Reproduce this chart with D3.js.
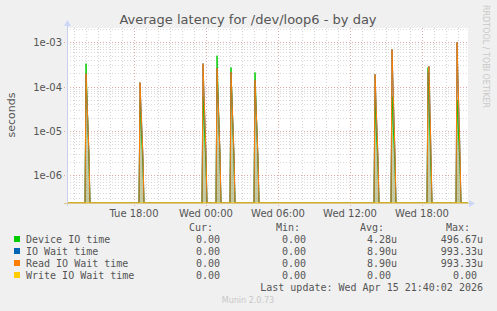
<!DOCTYPE html>
<html><head><meta charset="utf-8">
<script src="https://cdn.jsdelivr.net/npm/d3@7"></script>
<style>
html,body{margin:0;padding:0;background:#f0f0f0;}
svg{display:block;}
</style></head>
<body>
<svg id="c" width="497" height="311"></svg>
<script>
// ---- data ----
const title = "Average latency for /dev/loop6 - by day";
const yLabel = "seconds";
const yTickValues = [1e-6, 1e-5, 1e-4, 1e-3];
const yTickLabels = ["1e-06", "1e-05", "1e-04", "1e-03"];
const xTickTimes = ["2026-04-14T18:00", "2026-04-15T00:00", "2026-04-15T06:00", "2026-04-15T12:00", "2026-04-15T18:00"];
const xTickLabels = ["Tue 18:00", "Wed 00:00", "Wed 06:00", "Wed 12:00", "Wed 18:00"];
const timeStart = "2026-04-14T12:25";
const timeEnd = "2026-04-15T21:50";
const yMin = 2.35e-7, yMax = 2.1e-3;

// spikes: time of peak (5-minute samples)
const spikeTimes = ["2026-04-14T14:00","2026-04-14T18:30","2026-04-14T23:45","2026-04-15T00:55","2026-04-15T02:05",
                    "2026-04-15T04:05","2026-04-15T14:05","2026-04-15T15:30","2026-04-15T18:30","2026-04-15T20:55"];
// value at the peak sample and value at the sample 15 min later (seconds)
const deviceIOPeak  = [3.3e-4, 5e-5,   6e-5,   4.97e-4, 2.7e-4, 2.08e-4, 5e-5,    6e-5,    2.7e-4, 5e-5];
const deviceIOTail  = [2e-6,   1.5e-6, 1.5e-6, 2.5e-6,  2e-6,   2e-6,    1.5e-6,  1.5e-6,  1.2e-6, 1.5e-6];
const ioWaitPeak    = [1.95e-4,1.23e-4,3.3e-4, 2.6e-4,  2.1e-4, 1.4e-4,  1.88e-4, 6.86e-4, 1.95e-4,9.93e-4];
const ioWaitTail    = [3e-6,   2.5e-6, 3e-6,   3e-6,    3e-6,   2.5e-6,  2.5e-6,  3e-6,    3e-6,   3e-6];
const readWaitPeak  = [1.95e-4,1.23e-4,3.3e-4, 2.6e-4,  2.1e-4, 1.4e-4,  1.88e-4, 6.86e-4, 1.95e-4,9.93e-4];
const readWaitTail  = [3e-6,   2.5e-6, 3e-6,   3e-6,    3e-6,   2.5e-6,  2.5e-6,  3e-6,    3e-6,   3e-6];
const writeWaitPeak = [0,0,0,0,0,0,0,0,0,0];
// second peak at 18:35 in the spike near Wed 18:30
const extraTime = "2026-04-15T18:35";
const extraRead = 2.84e-4;

const legendNames = ["Device IO time", "IO Wait time", "Read IO Wait time", "Write IO Wait time"];
const legendColors = ["#00cc00", "#0066b3", "#ff8000", "#ffcc00"];
const legendCur = ["0.00", "0.00", "0.00", "0.00"];
const legendMin = ["0.00", "0.00", "0.00", "0.00"];
const legendAvg = ["4.28u", "8.90u", "8.90u", "0.00"];
const legendMax = ["496.67u", "993.33u", "993.33u", "0.00"];
const lastUpdate = "Last update: Wed Apr 15 21:40:02 2026";
const version = "Munin 2.0.73";

// ---- drawing ----
const svg = d3.select("#c");
const L = 67, R = 468, T = 28, B = 203;
const parse = d3.timeParse("%Y-%m-%dT%H:%M");
const x = d3.scaleTime().domain([parse(timeStart), parse(timeEnd)]).range([L, R]);
const y = d3.scaleLog().domain([yMin, yMax]).range([B, T]);

svg.append("rect").attr("x", L).attr("y", T).attr("width", R - L).attr("height", B - T).attr("fill", "#fff");

const g = svg.append("g");
const hours = d3.timeHour.every(1).range(x.domain()[0], x.domain()[1]);
g.selectAll(".vmin").data(hours).enter().append("line")
  .attr("x1", d => Math.round(x(d)) + 0.5).attr("x2", d => Math.round(x(d)) + 0.5)
  .attr("y1", T).attr("y2", B)
  .attr("stroke", "#d4d4d4").attr("stroke-width", 1).attr("stroke-dasharray", "1,2");
const minorY = [];
for (let e = -7; e <= -3; e++) for (let m = 2; m <= 9; m++) { const v = m * Math.pow(10, e); if (v > yMin && v < yMax) minorY.push(v); }
g.selectAll(".hmin").data(minorY).enter().append("line")
  .attr("x1", L).attr("x2", R)
  .attr("y1", d => Math.round(y(d)) + 0.5).attr("y2", d => Math.round(y(d)) + 0.5)
  .attr("stroke", "#dadada").attr("stroke-width", 1).attr("stroke-dasharray", "1,2");
const xt = xTickTimes.map(parse);
g.selectAll(".vmaj").data(xt).enter().append("line")
  .attr("x1", d => Math.round(x(d)) + 0.5).attr("x2", d => Math.round(x(d)) + 0.5)
  .attr("y1", T).attr("y2", B + 3)
  .attr("stroke", "#e4a8a8").attr("stroke-width", 1).attr("stroke-dasharray", "1,2");
g.selectAll(".hmaj").data(yTickValues).enter().append("line")
  .attr("x1", L - 3).attr("x2", R)
  .attr("y1", d => Math.round(y(d)) + 0.5).attr("y2", d => Math.round(y(d)) + 0.5)
  .attr("stroke", "#e4a8a8").attr("stroke-width", 1).attr("stroke-dasharray", "1,2");

function series(peaks, tails, extra) {
  const pts = [{t: x.domain()[0], v: 0}];
  spikeTimes.forEach((s, i) => {
    const t0 = parse(s);
    pts.push({t: d3.timeMinute.offset(t0, -5), v: 0});
    pts.push({t: t0, v: peaks[i]});
    if (extra && s === "2026-04-15T18:30") pts.push({t: parse(extraTime), v: extra});
    pts.push({t: d3.timeMinute.offset(t0, 15), v: tails ? tails[i] : 0});
    pts.push({t: d3.timeMinute.offset(t0, 20), v: 0});
  });
  pts.push({t: x.domain()[1], v: 0});
  return pts;
}
const yv = d => d.v > yMin ? y(d.v) : B;
const line = d3.line().x(d => x(d.t)).y(yv);
const allSeries = [
  series(deviceIOPeak, deviceIOTail, null),
  series(ioWaitPeak, ioWaitTail, extraRead),
  series(readWaitPeak, readWaitTail, extraRead),
  series(writeWaitPeak, null, null)
];
const area = d3.area().x(d => x(d.t)).y0(B).y1(yv);
svg.append("path").datum(allSeries[2]).attr("d", area).attr("fill", "#9a7a40").attr("opacity", 0.35);
svg.append("path").datum(allSeries[0]).attr("d", area).attr("fill", "#80c060").attr("opacity", 0.25);
allSeries.forEach((s, i) => {
  svg.append("path").datum(s).attr("d", line).attr("fill", "none")
    .attr("stroke", legendColors[i]).attr("stroke-width", 1);
});

// axes
svg.append("line").attr("x1", L + 0.5).attr("x2", L + 0.5).attr("y1", B + 3).attr("y2", T - 4).attr("stroke", "#c8d0f0");
svg.append("line").attr("x1", L - 3).attr("x2", R + 2).attr("y1", B + 0.5).attr("y2", B + 0.5).attr("stroke", "#d8c890");
svg.append("path").attr("d", `M${L - 3},${T - 2} L${L + 4},${T - 2} L${L + 0.5},${T - 8} Z`).attr("fill", "#ccd6f8");
svg.append("path").attr("d", `M${R + 1},${B - 3} L${R + 1},${B + 4} L${R + 7},${B + 0.5} Z`).attr("fill", "#ccd6f8");

const tf = "DejaVu Sans, sans-serif";
svg.selectAll(".yl").data(yTickValues).enter().append("text")
  .attr("x", 62).attr("y", d => y(d) + 4).attr("text-anchor", "end")
  .attr("font-family", tf).attr("font-size", 10).attr("fill", "#555")
  .text((d, i) => yTickLabels[i]);
svg.selectAll(".xl").data(xt).enter().append("text")
  .attr("x", d => x(d)).attr("y", 217).attr("text-anchor", "middle")
  .attr("font-family", tf).attr("font-size", 10).attr("fill", "#555")
  .text((d, i) => xTickLabels[i]);

svg.append("text").attr("x", 248).attr("y", 24).attr("text-anchor", "middle")
  .attr("font-family", tf).attr("font-size", 13).attr("fill", "#555").text(title);
svg.append("text").attr("transform", "translate(15,115) rotate(-90)").attr("text-anchor", "middle")
  .attr("font-family", tf).attr("font-size", 11).attr("fill", "#555").text(yLabel);
svg.append("text").attr("transform", "translate(483,5) rotate(90)").attr("text-anchor", "start")
  .attr("font-family", tf).attr("font-size", 8).attr("fill", "#c8c8c8").text("RRDTOOL / TOBI OETIKER");

const mf = "DejaVu Sans Mono, monospace";
const hdr = [["Cur:", 213], ["Min:", 300], ["Avg:", 384], ["Max:", 470]];
hdr.forEach(h => svg.append("text").attr("x", h[1]).attr("y", 231).attr("text-anchor", "end")
  .attr("font-family", mf).attr("font-size", 10).attr("fill", "#555").text(h[0]));
legendNames.forEach((n, i) => {
  const yy = 243 + i * 12;
  svg.append("rect").attr("x", 14).attr("y", yy - 7).attr("width", 6).attr("height", 6).attr("fill", legendColors[i]);
  svg.append("text").attr("x", 26).attr("y", yy).attr("font-family", mf).attr("font-size", 10).attr("fill", "#555").text(n);
  const cols = [[legendCur[i], 220, false], [legendMin[i], 306, false], [legendAvg[i], 397, true], [legendMax[i], 483, true]];
  cols.forEach(c => {
    const xr = (c[2] && !c[0].endsWith("u")) ? c[1] - 6 : c[1];
    svg.append("text").attr("x", xr).attr("y", yy).attr("text-anchor", "end")
      .attr("font-family", mf).attr("font-size", 10).attr("fill", "#555").text(c[0]);
  });
});
svg.append("text").attr("x", 483).attr("y", 291).attr("text-anchor", "end")
  .attr("font-family", mf).attr("font-size", 10).attr("fill", "#555").text(lastUpdate);
svg.append("text").attr("x", 248).attr("y", 303).attr("text-anchor", "middle")
  .attr("font-family", tf).attr("font-size", 8).attr("fill", "#c8c8c8").text(version);
</script>
</body></html>
